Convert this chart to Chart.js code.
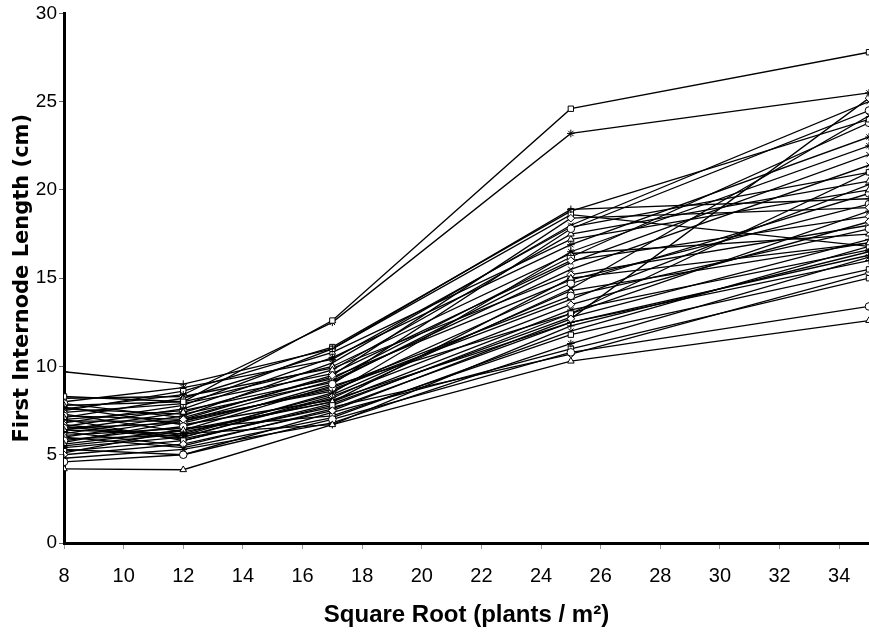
<!DOCTYPE html>
<html>
<head>
<meta charset="utf-8">
<script src="https://cdn.jsdelivr.net/npm/chart.js@4.4.1/dist/chart.umd.min.js"></script>
<style>
  html, body { margin: 0; padding: 0; background: #fff; overflow: hidden; }
  #wrap { width: 869px; height: 634px; overflow: hidden; }
</style>
</head>
<body>
<div id="wrap"><canvas id="chart" width="874" height="634"></canvas></div>
<script>
// densities (square root of plants / m2)
const densities = [8, 12, 17, 25, 35];
const xTicks = [8, 10, 12, 14, 16, 18, 20, 22, 24, 26, 28, 30, 32, 34];
const yTicks = [0, 5, 10, 15, 20, 25, 30];

// first internode length (cm) per genotype
const g01 = [8.3, 8.0, 12.6, 24.6, 27.8];
const g02 = [7.6, 8.4, 12.5, 23.2, 25.5];
const g03 = [9.7, 9.0, 11.0, 18.9, 19.5];
const g04 = [4.2, 4.15, 6.7, 10.3, 12.6];
const g05 = [4.6, 5.0, 7.0, 10.8, 13.4];
const g06 = [4.8, 5.3, 6.8, 11.3, 16.2];
const g07 = [5.0, 5.6, 7.5, 12.7, 25.2];
const g08 = [5.2, 5.8, 7.8, 13.0, 21.0];
const g09 = [5.4, 6.0, 8.2, 14.4, 24.2];
const g10 = [5.5, 6.2, 6.7, 12.3, 16.5];
const g11 = [5.6, 6.4, 8.0, 15.0, 17.0];
const g12 = [5.8, 6.6, 9.0, 17.8, 24.5];
const g13 = [5.9, 6.1, 8.5, 16.5, 22.5];
const g14 = [6.0, 7.0, 9.5, 18.4, 19.0];
const g15 = [6.1, 6.5, 7.2, 11.8, 15.5];
const g16 = [6.2, 7.2, 10.2, 18.0, 25.0];
const g17 = [6.3, 5.5, 7.6, 12.5, 16.3];
const g18 = [6.4, 7.4, 9.8, 17.5, 20.5];
const g19 = [6.5, 6.8, 8.8, 14.0, 17.8];
const g20 = [6.6, 7.6, 10.5, 16.9, 23.0];
const g21 = [6.7, 6.0, 8.3, 13.5, 18.2];
const g22 = [6.8, 7.8, 11.0, 18.6, 16.8];
const g23 = [6.9, 6.9, 9.2, 15.5, 21.4];
const g24 = [7.0, 5.8, 7.9, 12.8, 17.2];
const g25 = [7.1, 8.2, 10.8, 17.2, 20.0];
const g26 = [7.2, 7.0, 8.6, 14.7, 19.8];
const g27 = [7.3, 6.3, 8.0, 13.2, 16.6];
const g28 = [7.4, 7.9, 9.6, 16.0, 18.5];
const g29 = [7.5, 8.6, 11.1, 18.8, 24.0];
const g30 = [7.6, 7.3, 9.1, 15.9, 22.0];
const g31 = [7.7, 6.7, 8.1, 12.5, 16.0];
const g32 = [7.8, 8.0, 10.0, 16.4, 17.5];
const g33 = [7.9, 7.1, 9.4, 14.9, 19.2];
const g34 = [8.0, 8.8, 10.4, 17.9, 21.0];
const g35 = [8.2, 8.3, 9.9, 15.2, 18.0];
const g36 = [5.3, 5.0, 7.4, 11.0, 15.0];
const g37 = [6.0, 5.4, 7.1, 12.0, 16.8];
const g38 = [5.7, 6.9, 8.7, 13.8, 20.3];
const g39 = [6.4, 6.2, 8.4, 14.3, 17.0];
const g40 = [7.0, 7.5, 9.3, 16.2, 23.8];
const g41 = [5.1, 6.4, 8.9, 13.0, 18.8];
const g42 = [6.6, 5.9, 7.7, 10.7, 15.3];

const genotypes = [g01, g02, g03, g04, g05, g06, g07, g08, g09, g10, g11, g12, g13, g14,
  g15, g16, g17, g18, g19, g20, g21, g22, g23, g24, g25, g26, g27, g28,
  g29, g30, g31, g32, g33, g34, g35, g36, g37, g38, g39, g40, g41, g42];

const markers = ['rect', 'crossRot', 'cross', 'triangle', 'circle', 'star', 'rectRot'];

const datasets = genotypes.map((vals, i) => ({
    label: 'G' + (i + 1),
    data: vals.map((v, j) => ({ x: densities[j], y: v })),
    borderColor: '#000',
    borderWidth: 1.3,
    pointStyle: i === 0 ? 'rect' : i === 1 ? 'star' : i === 3 ? 'triangle' : markers[i % markers.length],
    pointRadius: 3.8,
    pointBackgroundColor: '#fff',
    pointBorderColor: '#000',
    pointBorderWidth: 1,
    tension: 0
}));

new Chart(document.getElementById('chart').getContext('2d'), {
    type: 'line',
    data: { datasets: datasets },
    options: {
        responsive: false,
        animation: false,
        layout: { padding: { top: 12, right: 0, left: 0, bottom: 0 } },
        plugins: { legend: { display: false }, tooltip: { enabled: false } },
        scales: {
            x: {
                type: 'linear',
                min: 8,
                max: 35,
                afterBuildTicks: (scale) => { scale.ticks = xTicks.map(v => ({ value: v })); },
                afterFit: (scale) => { scale.height = 91; },
                border: { color: '#000', width: 3 },
                grid: { drawOnChartArea: false, drawTicks: true, tickLength: 6, color: '#999' },
                ticks: {
                    color: '#000',
                    padding: 15,
                    maxRotation: 0,
                    font: { family: '"Liberation Sans Narrow", "Liberation Sans", Arial, sans-serif', size: 20 }
                },
                title: {
                    display: true,
                    text: 'Square Root (plants / m²)',
                    color: '#000',
                    padding: { top: 8 },
                    font: { family: '"Liberation Sans", Arial, sans-serif', size: 24, weight: 'bold' }
                }
            },
            y: {
                min: 0,
                max: 30,
                afterBuildTicks: (scale) => { scale.ticks = yTicks.map(v => ({ value: v })); },
                afterFit: (scale) => { scale.width = 64; },
                border: { color: '#000', width: 3 },
                grid: { drawOnChartArea: false, drawTicks: true, tickLength: 5, color: '#666' },
                ticks: {
                    color: '#000',
                    padding: 2,
                    font: { family: '"Liberation Sans", Arial, sans-serif', size: 19 }
                },
                title: {
                    display: true,
                    text: 'First Internode Length (cm)',
                    color: '#000',
                    padding: { top: 10, bottom: 4 },
                    font: { family: '"DejaVu Sans", sans-serif', size: 21, weight: 'bold' }
                }
            }
        }
    }
});
</script>
</body>
</html>
